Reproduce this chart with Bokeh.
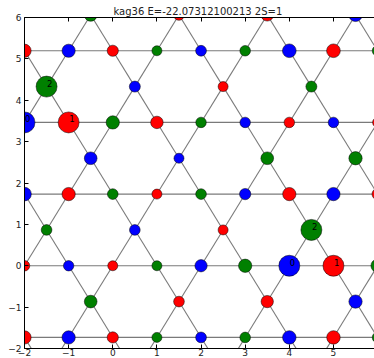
import numpy as np
from bokeh.plotting import figure
from bokeh.models import (ColumnDataSource, LabelSet, LinearAxis, FixedTicker, Range1d,
                          CustomJSTickFormatter)
from bokeh.core.properties import value
from bokeh.embed import file_html
from bokeh.resources import INLINE

TITLE = "kag36 E=-22.07312100213  2S=1"

# kagome rows: y = row * sqrt(3)/2
ROW_INDEX = [7, 6, 5, 4, 3, 2, 1, 0, -1, -2]
ROW_X = [
    [-0.5, 1.5, 3.5, 5.5],
    [-2, -1, 0, 1, 2, 3, 4, 5, 6],
    [-1.5, 0.5, 2.5, 4.5],
    [-2, -1, 0, 1, 2, 3, 4, 5, 6],
    [-0.5, 1.5, 3.5, 5.5],
    [-2, -1, 0, 1, 2, 3, 4, 5, 6],
    [-1.5, 0.5, 2.5, 4.5],
    [-2, -1, 0, 1, 2, 3, 4, 5, 6],
    [-0.5, 1.5, 3.5, 5.5],
    [-2, -1, 0, 1, 2, 3, 4, 5, 6],
]
ROW_COLORS = [
    "grrb",
    "rbrgbgbrg",
    "gbrg",
    "brgrgbrbr",
    "bbgg",
    "brgrgbrbr",
    "gbrg",
    "rbrgbgbrg",
    "grrb",
    "rbrgbgbrg",
]
ROW_SIZES = [
    [12.7, 10.7, 12.3, 13.3],
    [13.3, 13.2, 11.2, 10.0, 10.8, 10.6, 13.7, 13.7, 10.7],
    [21.0, 11.0, 10.0, 11.0],
    [21.0, 21.0, 13.3, 12.5, 10.5, 10.5, 10.5, 10.5, 10.0],
    [12.7, 10.0, 12.7, 13.3],
    [13.7, 13.3, 10.7, 10.0, 10.7, 11.3, 13.3, 13.3, 11.2],
    [10.7, 10.7, 10.0, 21.0],
    [10.5, 10.4, 10.0, 10.0, 12.3, 13.3, 21.0, 21.0, 13.3],
    [12.7, 10.7, 12.3, 13.3],
    [13.3, 13.3, 11.2, 10.0, 10.8, 10.6, 13.5, 13.5, 10.7],
]
# site labels: (row, x, text)
LABEL_ROW = [5, 4, 4, 1, 0, 0]
LABEL_X = [-1.5, -2, -1, 4.5, 4, 5]
LABEL_TEXT = ["2", "0", "1", "2", "0", "1"]

X_TICKS = [-2, -1, 0, 1, 2, 3, 4, 5]
Y_TICKS = [-2, -1, 0, 1, 2, 3, 4, 5, 6]
NEG_LABELS = {-2: "\u22122", -1: "\u22121"}

COLOR_MAP = {"r": "#ff0000", "g": "#008000", "b": "#0000ff"}
S3 = np.sqrt(3.0)

xs, ys, cs, ss = [], [], [], []
for r, rx, rc, rs in zip(ROW_INDEX, ROW_X, ROW_COLORS, ROW_SIZES):
    for x, c, s in zip(rx, rc, rs):
        xs.append(x)
        ys.append(r * S3 / 2)
        cs.append(COLOR_MAP[c])
        ss.append(s)
sites = ColumnDataSource(dict(x=xs, y=ys, color=cs, size=ss))

# bonds: nearest-neighbour pairs on an extended kagome lattice
pts = []
for r in range(-4, 10):
    if r % 2 == 0:
        rowx = np.arange(-4, 9, 1.0)
    elif r % 4 == 1:
        rowx = np.arange(-3.5, 9, 2.0)
    else:
        rowx = np.arange(-2.5, 9, 2.0)
    for x in rowx:
        pts.append((x, r * S3 / 2))
pts = np.array(pts)
d = np.sqrt(((pts[:, None, :] - pts[None, :, :]) ** 2).sum(-1))
ii, jj = np.where(np.abs(d - 1.0) < 1e-6)
mask = ii < jj
bonds = ColumnDataSource(dict(x0=pts[ii[mask], 0], y0=pts[ii[mask], 1],
                              x1=pts[jj[mask], 0], y1=pts[jj[mask], 1]))

p = figure(width=374, height=358, output_backend="svg", toolbar_location=None,
           x_range=Range1d(-2, 5.93), y_range=Range1d(-2, 6),
           min_border_left=24, min_border_right=0, min_border_top=17, min_border_bottom=0,
           x_axis_location=None, y_axis_location="left", title=TITLE)
p.title.text_font_size = "10px"
p.title.text_font = "DejaVu Sans"
p.title.text_font_style = "normal"
p.title.text_color = "#222222"
p.title.align = "center"
p.title.standoff = 2
p.title.offset = 3
p.outline_line_color = None
p.grid.visible = False
p.background_fill_color = "white"
p.border_fill_color = "white"

p.segment("x0", "y0", "x1", "y1", source=bonds, line_color="#7a7a7a", line_width=1.1)
p.scatter("x", "y", source=sites, size="size", fill_color="color",
          line_color="black", line_width=0.5)

lab_src = ColumnDataSource(dict(x=LABEL_X, y=[r * S3 / 2 for r in LABEL_ROW], t=LABEL_TEXT))
p.add_layout(LabelSet(x="x", y="y", text="t", source=lab_src, text_align="left",
                      text_baseline="alphabetic", text_font_size="8.5px",
                      text_font=value("DejaVu Sans"), text_color="black", x_offset=0.5))

# axes
yax = p.yaxis[0]
yax.ticker = FixedTicker(ticks=Y_TICKS)
yax.major_label_overrides = NEG_LABELS
yax.major_label_text_font_size = "9px"
yax.major_label_text_font = "DejaVu Sans"
yax.major_label_text_color = "#222222"
yax.major_label_standoff = 3
yax.major_tick_in = 4
yax.major_tick_out = 0
yax.minor_tick_line_color = None
yax.axis_line_color = "black"

xax = LinearAxis(ticker=FixedTicker(ticks=X_TICKS))
xax.major_label_overrides = NEG_LABELS
xax.major_label_text_font_size = "9px"
xax.major_label_text_font = "DejaVu Sans"
xax.major_label_text_color = "#222222"
xax.major_label_standoff = 0
xax.major_tick_in = 4
xax.major_tick_out = 0
xax.minor_tick_line_color = None
xax.axis_line_color = "black"
p.add_layout(xax, "below")

top_ax = LinearAxis(ticker=FixedTicker(ticks=X_TICKS),
                    formatter=CustomJSTickFormatter(code="return ''"))
top_ax.major_label_standoff = 0
top_ax.major_tick_in = 4
top_ax.major_tick_out = 0
top_ax.minor_tick_line_color = None
top_ax.axis_line_color = "black"
p.add_layout(top_ax, "above")

open("out.html", "w").write(file_html(p, INLINE))
